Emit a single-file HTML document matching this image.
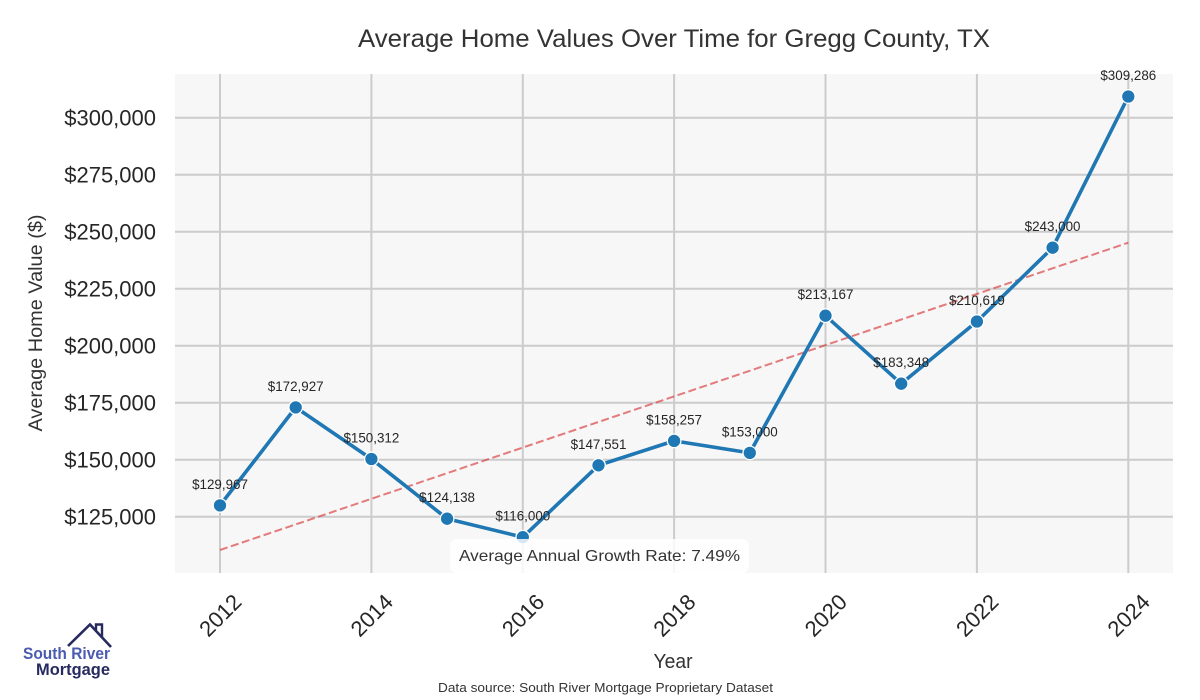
<!DOCTYPE html>
<html>
<head>
<meta charset="utf-8">
<style>
html,body{margin:0;padding:0;background:#fff;}
svg{display:block;}
text{font-family:"Liberation Sans",Arial,sans-serif;}
</style>
</head>
<body>
<svg width="1200" height="700" viewBox="0 0 1200 700" xmlns="http://www.w3.org/2000/svg">
  <rect x="0" y="0" width="1200" height="700" fill="#ffffff"/>
  <!-- Title -->
  <text x="674" y="47" font-size="25" fill="#333" text-anchor="middle" textLength="632" lengthAdjust="spacingAndGlyphs">Average Home Values Over Time for Gregg County, TX</text>

  <!-- plot area -->
  <rect x="175" y="74" width="998" height="499" fill="#f7f7f7"/>

  <!-- horizontal grid -->
  <g stroke="#cccccc" stroke-width="2">
    <line x1="175" y1="117.7" x2="1173" y2="117.7"/>
    <line x1="175" y1="174.7" x2="1173" y2="174.7"/>
    <line x1="175" y1="231.7" x2="1173" y2="231.7"/>
    <line x1="175" y1="288.7" x2="1173" y2="288.7"/>
    <line x1="175" y1="345.7" x2="1173" y2="345.7"/>
    <line x1="175" y1="402.7" x2="1173" y2="402.7"/>
    <line x1="175" y1="459.7" x2="1173" y2="459.7"/>
    <line x1="175" y1="516.7" x2="1173" y2="516.7"/>
    <!-- vertical grid -->
    <line x1="220" y1="74" x2="220" y2="573"/>
    <line x1="371.4" y1="74" x2="371.4" y2="573"/>
    <line x1="522.8" y1="74" x2="522.8" y2="573"/>
    <line x1="674.1" y1="74" x2="674.1" y2="573"/>
    <line x1="825.5" y1="74" x2="825.5" y2="573"/>
    <line x1="976.9" y1="74" x2="976.9" y2="573"/>
    <line x1="1128.3" y1="74" x2="1128.3" y2="573"/>
  </g>

  <!-- y tick labels -->
  <g font-size="22" fill="#262626" text-anchor="end">
    <text x="156" y="125.7">$300,000</text>
    <text x="156" y="182.7">$275,000</text>
    <text x="156" y="239.7">$250,000</text>
    <text x="156" y="296.7">$225,000</text>
    <text x="156" y="353.7">$200,000</text>
    <text x="156" y="410.7">$175,000</text>
    <text x="156" y="467.7">$150,000</text>
    <text x="156" y="524.7">$125,000</text>
  </g>

  <!-- y label -->
  <text transform="translate(42,323) rotate(-90)" font-size="19.5" fill="#333" text-anchor="middle" textLength="217" lengthAdjust="spacingAndGlyphs">Average Home Value ($)</text>

  <!-- x tick labels -->
  <g font-size="22" fill="#262626" text-anchor="middle">
    <text transform="translate(220,615) rotate(-45)" dy="8">2012</text>
    <text transform="translate(371.4,615) rotate(-45)" dy="8">2014</text>
    <text transform="translate(522.8,615) rotate(-45)" dy="8">2016</text>
    <text transform="translate(674.1,615) rotate(-45)" dy="8">2018</text>
    <text transform="translate(825.5,615) rotate(-45)" dy="8">2020</text>
    <text transform="translate(976.9,615) rotate(-45)" dy="8">2022</text>
    <text transform="translate(1128.3,615) rotate(-45)" dy="8">2024</text>
  </g>

  <!-- x label -->
  <text x="673" y="668" font-size="20" fill="#333" text-anchor="middle" textLength="39" lengthAdjust="spacingAndGlyphs">Year</text>

  <!-- trend line -->
  <line x1="220" y1="550" x2="1128.3" y2="242.7" stroke="#d62728" stroke-opacity="0.6" stroke-width="2" stroke-dasharray="8,3.5"/>

  <!-- main series -->
  <polyline fill="none" stroke="#1f77b4" stroke-width="3.6" stroke-linejoin="round"
    points="220,505.4 295.7,407.4 371.4,459.0 447.1,518.7 522.8,537.2 598.5,465.3 674.1,440.9 749.8,452.9 825.5,315.7 901.2,383.7 976.9,321.5 1052.6,247.7 1128.3,96.5"/>
  <g fill="#1f77b4" stroke="#ffffff" stroke-width="1.3">
    <circle cx="220" cy="505.4" r="6.8"/>
    <circle cx="295.7" cy="407.4" r="6.8"/>
    <circle cx="371.4" cy="459.0" r="6.8"/>
    <circle cx="447.1" cy="518.7" r="6.8"/>
    <circle cx="522.8" cy="537.2" r="6.8"/>
    <circle cx="598.5" cy="465.3" r="6.8"/>
    <circle cx="674.1" cy="440.9" r="6.8"/>
    <circle cx="749.8" cy="452.9" r="6.8"/>
    <circle cx="825.5" cy="315.7" r="6.8"/>
    <circle cx="901.2" cy="383.7" r="6.8"/>
    <circle cx="976.9" cy="321.5" r="6.8"/>
    <circle cx="1052.6" cy="247.7" r="6.8"/>
    <circle cx="1128.3" cy="96.5" r="6.8"/>
  </g>

  <!-- data labels -->
  <g font-size="13.4" fill="#262626" text-anchor="middle">
    <text x="220" y="488.9">$129,967</text>
    <text x="295.7" y="390.9">$172,927</text>
    <text x="371.4" y="442.5">$150,312</text>
    <text x="447.1" y="502.2">$124,138</text>
    <text x="522.8" y="520.7">$116,000</text>
    <text x="598.5" y="448.8">$147,551</text>
    <text x="674.1" y="424.4">$158,257</text>
    <text x="749.8" y="436.4">$153,000</text>
    <text x="825.5" y="299.2">$213,167</text>
    <text x="901.2" y="367.2">$183,348</text>
    <text x="976.9" y="305.0">$210,619</text>
    <text x="1052.6" y="231.2">$243,000</text>
    <text x="1128.3" y="80.0">$309,286</text>
  </g>

  <!-- growth rate box -->
  <rect x="450" y="539" width="299" height="34" rx="7" ry="7" fill="#ffffff" fill-opacity="0.82"/>
  <text x="599.5" y="561" font-size="16" fill="#333" text-anchor="middle" textLength="281" lengthAdjust="spacingAndGlyphs">Average Annual Growth Rate: 7.49%</text>

  <!-- data source -->
  <text x="605.5" y="692" font-size="13" fill="#333" text-anchor="middle" textLength="335" lengthAdjust="spacingAndGlyphs">Data source: South River Mortgage Proprietary Dataset</text>

  <!-- logo -->
  <g>
    <polyline points="68,646 90,624.5 111,647" fill="none" stroke="#262a5e" stroke-width="2.6" stroke-linejoin="miter"/>
    <polyline points="96,630 96,624.5 102,624.5 102,637" fill="none" stroke="#262a5e" stroke-width="2.4"/>
    <text x="23" y="659" font-size="16.5" font-weight="bold" fill="#4a5bb0" textLength="87" lengthAdjust="spacingAndGlyphs">South River</text>
    <text x="36" y="675" font-size="17" font-weight="bold" fill="#262a5e" textLength="74" lengthAdjust="spacingAndGlyphs">Mortgage</text>
  </g>
</svg>
</body>
</html>
